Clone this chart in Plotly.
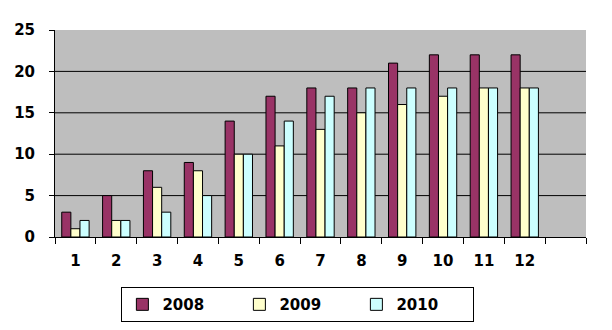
import plotly.graph_objects as go

categories = ["1", "2", "3", "4", "5", "6", "7", "8", "9", "10", "11", "12"]
slots = categories + [" "]
series_names = ["2008", "2009", "2010"]
v2008 = [3, 5, 8, 9, 14, 17, 18, 18, 21, 22, 22, 22]
v2009 = [1, 2, 6, 8, 10, 11, 13, 15, 16, 17, 18, 18]
v2010 = [2, 2, 3, 5, 10, 14, 17, 18, 18, 18, 18, 18]
colors = ["#993366", "#FFFFCC", "#CCFFFF"]
y_ticks = [0, 5, 10, 15, 20, 25]
grid_vals = [5, 10, 15, 20]

fig = go.Figure()
for name, vals, col in zip(series_names, [v2008, v2009, v2010], colors):
    fig.add_trace(go.Bar(x=categories, y=vals, name=name,
                         marker=dict(color=col, line=dict(color="black", width=1))))

for g in grid_vals:
    fig.add_shape(type="line", xref="paper", x0=0, x1=1, yref="y", y0=g, y1=g,
                  line=dict(color="black", width=1), layer="below")

fig.update_layout(
    width=612, height=330,
    margin=dict(l=55, r=26, t=30, b=93, autoexpand=False),
    paper_bgcolor="white", plot_bgcolor="#BEBEBE",
    barmode="group", bargap=0.33, bargroupgap=0,
    font=dict(family="DejaVu Sans", size=15, color="black", weight="bold"),
    showlegend=True,
    legend=dict(orientation="h", x=0.125, xanchor="left",
                yref="container", y=0.13, yanchor="top",
                bgcolor="white", bordercolor="black", borderwidth=1,
                font=dict(family="DejaVu Sans", size=15, color="black", weight="bold"),
                entrywidth=72, itemwidth=30, tracegroupgap=0),
    xaxis=dict(type="category", categoryorder="array", categoryarray=slots,
               range=[-0.5, 12.5], tickson="boundaries", ticks="outside", ticklen=6,
               tickcolor="black", showline=True, linecolor="black", linewidth=1,
               showgrid=False, ticklabelstandoff=10),
    yaxis=dict(range=[0, 25], tickvals=y_ticks, ticks="outside", ticklen=5,
               tickcolor="black", showline=True, linecolor="black", linewidth=1,
               showgrid=False, zeroline=False, ticklabelstandoff=11),
)

fig.write_html("out.html")
